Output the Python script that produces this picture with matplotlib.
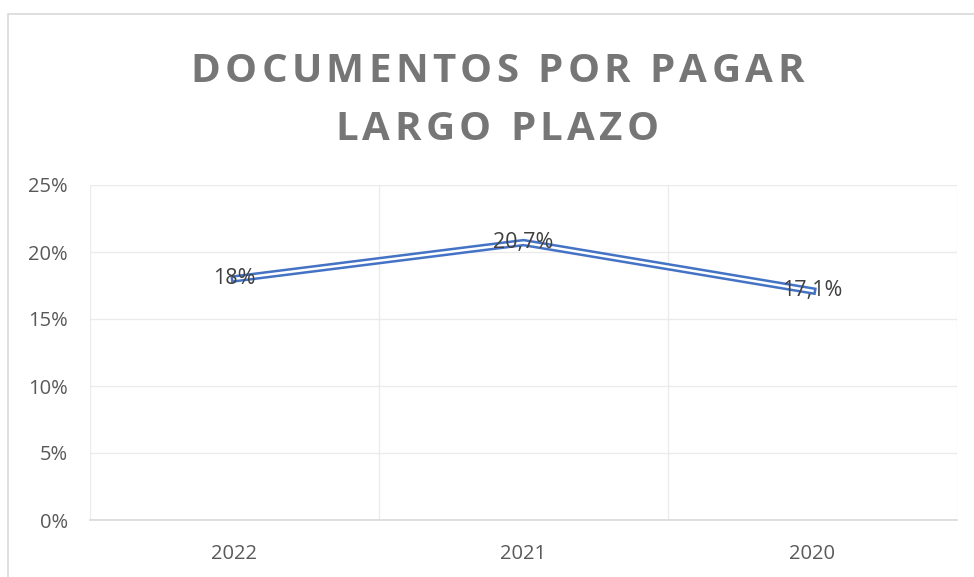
import matplotlib.pyplot as plt
from matplotlib.patches import Rectangle

anios = ["2022", "2021", "2020"]
valores = [0.18, 0.207, 0.171]
etiquetas = ["18%", "20,7%", "17,1%"]
ticks_y = [0, 0.05, 0.10, 0.15, 0.20, 0.25]
ticks_y_txt = ["0%", "5%", "10%", "15%", "20%", "25%"]
titulo = ["DOCUMENTOS POR PAGAR", "LARGO PLAZO"]

plt.rcParams["font.family"] = ["Open Sans", "DejaVu Sans"]

W, H = 974, 577
fig = plt.figure(figsize=(W / 100, H / 100), dpi=100)

# marco del grafico (recortado a la derecha y abajo)
fig.patches.append(Rectangle((8 / W, -0.1), 1.1, 1 - 14 / H + 0.1, transform=fig.transFigure,
                             fill=False, edgecolor="#D9D9D9", linewidth=1.2))

ax = fig.add_axes([90 / W, 1 - 520 / H, (957 - 90) / W, (520 - 185) / H])
x = list(range(len(anios)))

# linea doble estilo Excel
ax.plot(x, valores, color="#4472C4", linewidth=5.4, solid_joinstyle="miter", zorder=3)
ax.plot(x, valores, color="white", linewidth=1.8, solid_joinstyle="miter", zorder=4)

for xi, v, t in zip(x, valores, etiquetas):
    ax.text(xi, v, t, ha="center", va="center", fontsize=15.5, color="#404040", zorder=5)

ax.set_xlim(-0.5, 2.5)
ax.set_ylim(0, 0.25)
ax.set_yticks(ticks_y)
ax.set_yticklabels(ticks_y_txt)
ax.set_xticks(x)
ax.set_xticklabels(anios)
ax.set_xticks([-0.5, 0.5, 1.5, 2.5], minor=True)
ax.grid(True, axis="y", color="#EBEBEB", linewidth=1)
ax.grid(True, axis="x", which="minor", color="#EBEBEB", linewidth=1)
ax.tick_params(axis="both", which="both", length=0, colors="#595959", labelsize=14.5)
ax.tick_params(axis="y", pad=16)
ax.tick_params(axis="x", pad=17)
for s in ["top", "right", "left"]:
    ax.spines[s].set_visible(False)
ax.spines["bottom"].set_color("#D9D9D9")
ax.spines["bottom"].set_linewidth(1.2)

# titulo con espaciado entre letras
renderer = fig.canvas.get_renderer()
estilo = dict(fontsize=29, fontweight="bold", color="#767676", va="center", ha="left")


def anchos(linea):
    res = []
    for ch in linea:
        if ch == " ":
            a = fig.text(0, 0, "II", **estilo)
            b = fig.text(0, 0, "I I", **estilo)
            w = b.get_window_extent(renderer).width - a.get_window_extent(renderer).width
            a.remove(); b.remove()
        else:
            t = fig.text(0, 0, ch, **estilo)
            w = t.get_window_extent(renderer).width
            t.remove()
        res.append(w)
    return res


w1 = anchos(titulo[0])
track = (613 - sum(w1)) / (len(titulo[0]) - 1)
for linea, yc in zip(titulo, [71, 129]):
    ws = anchos(linea)
    total = sum(ws) + track * (len(linea) - 1)
    xp = 497 - total / 2
    for ch, w in zip(linea, ws):
        if ch != " ":
            fig.text(xp / W, 1 - yc / H, ch, **estilo)
        xp += w + track

fig.savefig("out.png", dpi=100)
